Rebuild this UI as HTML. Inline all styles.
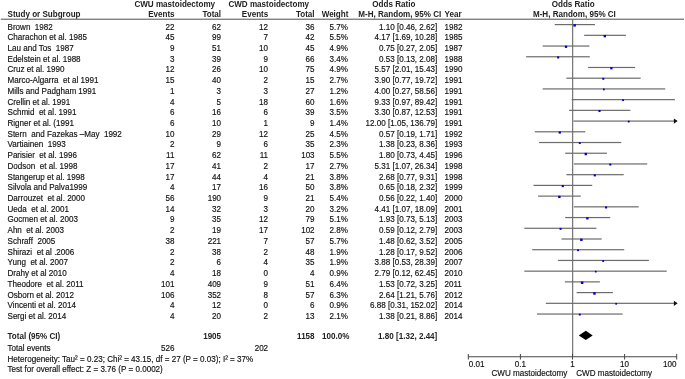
<!DOCTYPE html><html><head><meta charset="utf-8"><style>
html,body{margin:0;padding:0;background:#fff;width:685px;height:379px;overflow:hidden}
svg{display:block;will-change:transform}
#w{width:685px;height:379px}
text{font-family:"Liberation Sans",sans-serif;font-size:8.08px;fill:#111;stroke:#111;stroke-width:0.15px}
.b{font-weight:bold;stroke-width:0px;fill:#222}.e{text-anchor:end}.m{text-anchor:middle}
</style></head><body><div id="w">
<svg width="685" height="379" viewBox="0 0 685 379">
<rect width="685" height="379" fill="#fff"/>
<text class="b" transform="translate(134.40 6.80) scale(1 1.09)">CWU mastoidectomy</text>
<text class="b" transform="translate(228.40 6.80) scale(1 1.09)">CWD mastoidectomy</text>
<text class="b" transform="translate(372.30 6.80) scale(1 1.09)">Odds Ratio</text>
<text class="b m" transform="translate(573.20 6.80) scale(1 1.09)">Odds Ratio</text>
<text class="b" transform="translate(7.50 17.30) scale(1 1.09)">Study or Subgroup</text>
<text class="b e" transform="translate(174.60 17.30) scale(1 1.09)">Events</text>
<text class="b e" transform="translate(221.10 17.30) scale(1 1.09)">Total</text>
<text class="b e" transform="translate(268.30 17.30) scale(1 1.09)">Events</text>
<text class="b e" transform="translate(314.60 17.30) scale(1 1.09)">Total</text>
<text class="b e" transform="translate(348.40 17.30) scale(1 1.09)">Weight</text>
<text class="b e" transform="translate(441.20 17.30) scale(1 1.09)">M-H, Random, 95% CI</text>
<text class="b" transform="translate(444.50 17.30) scale(1 1.09)">Year</text>
<text class="b m" transform="translate(574.40 17.30) scale(1 1.09)">M-H, Random, 95% CI</text>
<rect x="0.8" y="18.6" width="683.2" height="1.3" fill="#777"/>
<rect x="572.0" y="19.5" width="1.25" height="337.0" fill="#7a7a7a"/>
<text transform="translate(7.50 29.50) scale(1 1.09)">Brown&#160;&#160;1982</text>
<text class="e" transform="translate(174.40 29.50) scale(1 1.09)">22</text>
<text class="e" transform="translate(221.10 29.50) scale(1 1.09)">62</text>
<text class="e" transform="translate(268.10 29.50) scale(1 1.09)">12</text>
<text class="e" transform="translate(314.60 29.50) scale(1 1.09)">36</text>
<text class="e" transform="translate(347.90 29.50) scale(1 1.09)">5.7%</text>
<text class="e" transform="translate(437.30 29.50) scale(1 1.09)">1.10 [0.46, 2.62]</text>
<text transform="translate(444.50 29.50) scale(1 1.09)">1982</text>
<rect x="554.73" y="24.00" width="40.26" height="1.2" fill="#6c6c6c"/>
<rect x="573.46" y="24.20" width="2.40" height="2.40" fill="#0000d0"/>
<text transform="translate(7.50 40.22) scale(1 1.09)">Charachon et al. 1985</text>
<text class="e" transform="translate(174.40 40.22) scale(1 1.09)">45</text>
<text class="e" transform="translate(221.10 40.22) scale(1 1.09)">99</text>
<text class="e" transform="translate(268.10 40.22) scale(1 1.09)">7</text>
<text class="e" transform="translate(314.60 40.22) scale(1 1.09)">42</text>
<text class="e" transform="translate(347.90 40.22) scale(1 1.09)">5.5%</text>
<text class="e" transform="translate(437.30 40.22) scale(1 1.09)">4.17 [1.69, 10.28]</text>
<text transform="translate(444.50 40.22) scale(1 1.09)">1985</text>
<rect x="584.17" y="34.72" width="41.75" height="1.2" fill="#6c6c6c"/>
<rect x="603.62" y="34.92" width="2.37" height="2.37" fill="#0000d0"/>
<text transform="translate(7.50 50.94) scale(1 1.09)">Lau and Tos&#160;&#160;1987</text>
<text class="e" transform="translate(174.40 50.94) scale(1 1.09)">9</text>
<text class="e" transform="translate(221.10 50.94) scale(1 1.09)">51</text>
<text class="e" transform="translate(268.10 50.94) scale(1 1.09)">10</text>
<text class="e" transform="translate(314.60 50.94) scale(1 1.09)">45</text>
<text class="e" transform="translate(347.90 50.94) scale(1 1.09)">4.9%</text>
<text class="e" transform="translate(437.30 50.94) scale(1 1.09)">0.75 [0.27, 2.05]</text>
<text transform="translate(444.50 50.94) scale(1 1.09)">1987</text>
<rect x="542.67" y="45.44" width="46.77" height="1.2" fill="#6c6c6c"/>
<rect x="564.85" y="45.64" width="2.29" height="2.29" fill="#0000d0"/>
<text transform="translate(7.50 61.66) scale(1 1.09)">Edelstein et al. 1988</text>
<text class="e" transform="translate(174.40 61.66) scale(1 1.09)">3</text>
<text class="e" transform="translate(221.10 61.66) scale(1 1.09)">39</text>
<text class="e" transform="translate(268.10 61.66) scale(1 1.09)">9</text>
<text class="e" transform="translate(314.60 61.66) scale(1 1.09)">66</text>
<text class="e" transform="translate(347.90 61.66) scale(1 1.09)">3.4%</text>
<text class="e" transform="translate(437.30 61.66) scale(1 1.09)">0.53 [0.13, 2.08]</text>
<text transform="translate(444.50 61.66) scale(1 1.09)">1988</text>
<rect x="526.14" y="56.16" width="63.63" height="1.2" fill="#6c6c6c"/>
<rect x="557.10" y="56.36" width="2.08" height="2.08" fill="#0000d0"/>
<text transform="translate(7.50 72.38) scale(1 1.09)">Cruz et al. 1990</text>
<text class="e" transform="translate(174.40 72.38) scale(1 1.09)">12</text>
<text class="e" transform="translate(221.10 72.38) scale(1 1.09)">26</text>
<text class="e" transform="translate(268.10 72.38) scale(1 1.09)">10</text>
<text class="e" transform="translate(314.60 72.38) scale(1 1.09)">75</text>
<text class="e" transform="translate(347.90 72.38) scale(1 1.09)">4.9%</text>
<text class="e" transform="translate(437.30 72.38) scale(1 1.09)">5.57 [2.01, 15.43]</text>
<text transform="translate(444.50 72.38) scale(1 1.09)">1990</text>
<rect x="588.10" y="66.88" width="47.02" height="1.2" fill="#6c6c6c"/>
<rect x="610.22" y="67.08" width="2.29" height="2.29" fill="#0000d0"/>
<text transform="translate(7.50 83.10) scale(1 1.09)">Marco-Algarra&#160;&#160;et al 1991</text>
<text class="e" transform="translate(174.40 83.10) scale(1 1.09)">15</text>
<text class="e" transform="translate(221.10 83.10) scale(1 1.09)">40</text>
<text class="e" transform="translate(268.10 83.10) scale(1 1.09)">2</text>
<text class="e" transform="translate(314.60 83.10) scale(1 1.09)">15</text>
<text class="e" transform="translate(347.90 83.10) scale(1 1.09)">2.7%</text>
<text class="e" transform="translate(437.30 83.10) scale(1 1.09)">3.90 [0.77, 19.72]</text>
<text transform="translate(444.50 83.10) scale(1 1.09)">1991</text>
<rect x="566.39" y="77.60" width="74.28" height="1.2" fill="#6c6c6c"/>
<rect x="602.31" y="77.80" width="1.98" height="1.98" fill="#0000d0"/>
<text transform="translate(7.50 93.82) scale(1 1.09)">Mills and Padgham 1991</text>
<text class="e" transform="translate(174.40 93.82) scale(1 1.09)">1</text>
<text class="e" transform="translate(221.10 93.82) scale(1 1.09)">3</text>
<text class="e" transform="translate(268.10 93.82) scale(1 1.09)">3</text>
<text class="e" transform="translate(314.60 93.82) scale(1 1.09)">27</text>
<text class="e" transform="translate(347.90 93.82) scale(1 1.09)">1.2%</text>
<text class="e" transform="translate(437.30 93.82) scale(1 1.09)">4.00 [0.27, 58.56]</text>
<text transform="translate(444.50 93.82) scale(1 1.09)">1991</text>
<rect x="542.67" y="88.32" width="122.62" height="1.2" fill="#6c6c6c"/>
<rect x="602.98" y="88.52" width="1.77" height="1.77" fill="#0000d0"/>
<text transform="translate(7.50 104.54) scale(1 1.09)">Crellin et al. 1991</text>
<text class="e" transform="translate(174.40 104.54) scale(1 1.09)">4</text>
<text class="e" transform="translate(221.10 104.54) scale(1 1.09)">5</text>
<text class="e" transform="translate(268.10 104.54) scale(1 1.09)">18</text>
<text class="e" transform="translate(314.60 104.54) scale(1 1.09)">60</text>
<text class="e" transform="translate(347.90 104.54) scale(1 1.09)">1.6%</text>
<text class="e" transform="translate(437.30 104.54) scale(1 1.09)">9.33 [0.97, 89.42]</text>
<text transform="translate(444.50 104.54) scale(1 1.09)">1991</text>
<rect x="571.61" y="99.04" width="103.26" height="1.2" fill="#6c6c6c"/>
<rect x="622.12" y="99.24" width="1.82" height="1.82" fill="#0000d0"/>
<text transform="translate(7.50 115.26) scale(1 1.09)">Schmid&#160;&#160;et al. 1991</text>
<text class="e" transform="translate(174.40 115.26) scale(1 1.09)">6</text>
<text class="e" transform="translate(221.10 115.26) scale(1 1.09)">16</text>
<text class="e" transform="translate(268.10 115.26) scale(1 1.09)">6</text>
<text class="e" transform="translate(314.60 115.26) scale(1 1.09)">39</text>
<text class="e" transform="translate(347.90 115.26) scale(1 1.09)">3.5%</text>
<text class="e" transform="translate(437.30 115.26) scale(1 1.09)">3.30 [0.87, 12.53]</text>
<text transform="translate(444.50 115.26) scale(1 1.09)">1991</text>
<rect x="569.15" y="109.76" width="61.25" height="1.2" fill="#6c6c6c"/>
<rect x="598.47" y="109.96" width="2.09" height="2.09" fill="#0000d0"/>
<text transform="translate(7.50 125.98) scale(1 1.09)">Rigner et al. (1991</text>
<text class="e" transform="translate(174.40 125.98) scale(1 1.09)">6</text>
<text class="e" transform="translate(221.10 125.98) scale(1 1.09)">10</text>
<text class="e" transform="translate(268.10 125.98) scale(1 1.09)">1</text>
<text class="e" transform="translate(314.60 125.98) scale(1 1.09)">9</text>
<text class="e" transform="translate(347.90 125.98) scale(1 1.09)">1.4%</text>
<text class="e" transform="translate(437.30 125.98) scale(1 1.09)">12.00 [1.05, 136.79]</text>
<text transform="translate(444.50 125.98) scale(1 1.09)">1991</text>
<rect x="573.40" y="120.48" width="103.30" height="1.2" fill="#6c6c6c"/>
<path d="M673.90 118.48 L677.60 121.08 L673.90 123.68 Z" fill="#111"/>
<rect x="627.83" y="120.68" width="1.80" height="1.80" fill="#0000d0"/>
<text transform="translate(7.50 136.70) scale(1 1.09)">Stern&#160;&#160;and Fazekas&#160;&#8211;May&#160;&#160;1992</text>
<text class="e" transform="translate(174.40 136.70) scale(1 1.09)">10</text>
<text class="e" transform="translate(221.10 136.70) scale(1 1.09)">29</text>
<text class="e" transform="translate(268.10 136.70) scale(1 1.09)">12</text>
<text class="e" transform="translate(314.60 136.70) scale(1 1.09)">25</text>
<text class="e" transform="translate(347.90 136.70) scale(1 1.09)">4.5%</text>
<text class="e" transform="translate(437.30 136.70) scale(1 1.09)">0.57 [0.19, 1.71]</text>
<text transform="translate(444.50 136.70) scale(1 1.09)">1992</text>
<rect x="534.72" y="131.20" width="50.62" height="1.2" fill="#6c6c6c"/>
<rect x="558.67" y="131.40" width="2.23" height="2.23" fill="#0000d0"/>
<text transform="translate(7.50 147.42) scale(1 1.09)">Vartiainen&#160;&#160;1993</text>
<text class="e" transform="translate(174.40 147.42) scale(1 1.09)">2</text>
<text class="e" transform="translate(221.10 147.42) scale(1 1.09)">9</text>
<text class="e" transform="translate(268.10 147.42) scale(1 1.09)">6</text>
<text class="e" transform="translate(314.60 147.42) scale(1 1.09)">35</text>
<text class="e" transform="translate(347.90 147.42) scale(1 1.09)">2.3%</text>
<text class="e" transform="translate(437.30 147.42) scale(1 1.09)">1.38 [0.23, 8.36]</text>
<text transform="translate(444.50 147.42) scale(1 1.09)">1993</text>
<rect x="539.05" y="141.92" width="82.20" height="1.2" fill="#6c6c6c"/>
<rect x="578.83" y="142.12" width="1.92" height="1.92" fill="#0000d0"/>
<text transform="translate(7.50 158.14) scale(1 1.09)">Parisier&#160;&#160;et al. 1996</text>
<text class="e" transform="translate(174.40 158.14) scale(1 1.09)">11</text>
<text class="e" transform="translate(221.10 158.14) scale(1 1.09)">62</text>
<text class="e" transform="translate(268.10 158.14) scale(1 1.09)">11</text>
<text class="e" transform="translate(314.60 158.14) scale(1 1.09)">103</text>
<text class="e" transform="translate(347.90 158.14) scale(1 1.09)">5.5%</text>
<text class="e" transform="translate(437.30 158.14) scale(1 1.09)">1.80 [0.73, 4.45]</text>
<text transform="translate(444.50 158.14) scale(1 1.09)">1996</text>
<rect x="565.18" y="152.64" width="41.80" height="1.2" fill="#6c6c6c"/>
<rect x="584.61" y="152.84" width="2.37" height="2.37" fill="#0000d0"/>
<text transform="translate(7.50 168.86) scale(1 1.09)">Dodson&#160;&#160;et al. 1998</text>
<text class="e" transform="translate(174.40 168.86) scale(1 1.09)">17</text>
<text class="e" transform="translate(221.10 168.86) scale(1 1.09)">41</text>
<text class="e" transform="translate(268.10 168.86) scale(1 1.09)">2</text>
<text class="e" transform="translate(314.60 168.86) scale(1 1.09)">17</text>
<text class="e" transform="translate(347.90 168.86) scale(1 1.09)">2.7%</text>
<text class="e" transform="translate(437.30 168.86) scale(1 1.09)">5.31 [1.07, 26.34]</text>
<text transform="translate(444.50 168.86) scale(1 1.09)">1998</text>
<rect x="573.83" y="163.36" width="73.38" height="1.2" fill="#6c6c6c"/>
<rect x="609.29" y="163.56" width="1.98" height="1.98" fill="#0000d0"/>
<text transform="translate(7.50 179.58) scale(1 1.09)">Stangerup et al. 1998</text>
<text class="e" transform="translate(174.40 179.58) scale(1 1.09)">17</text>
<text class="e" transform="translate(221.10 179.58) scale(1 1.09)">44</text>
<text class="e" transform="translate(268.10 179.58) scale(1 1.09)">4</text>
<text class="e" transform="translate(314.60 179.58) scale(1 1.09)">21</text>
<text class="e" transform="translate(347.90 179.58) scale(1 1.09)">3.8%</text>
<text class="e" transform="translate(437.30 179.58) scale(1 1.09)">2.68 [0.77, 9.31]</text>
<text transform="translate(444.50 179.58) scale(1 1.09)">1998</text>
<rect x="566.39" y="174.08" width="57.30" height="1.2" fill="#6c6c6c"/>
<rect x="593.74" y="174.28" width="2.13" height="2.13" fill="#0000d0"/>
<text transform="translate(7.50 190.30) scale(1 1.09)">Silvola and Palva1999</text>
<text class="e" transform="translate(174.40 190.30) scale(1 1.09)">4</text>
<text class="e" transform="translate(221.10 190.30) scale(1 1.09)">17</text>
<text class="e" transform="translate(268.10 190.30) scale(1 1.09)">16</text>
<text class="e" transform="translate(314.60 190.30) scale(1 1.09)">50</text>
<text class="e" transform="translate(347.90 190.30) scale(1 1.09)">3.8%</text>
<text class="e" transform="translate(437.30 190.30) scale(1 1.09)">0.65 [0.18, 2.32]</text>
<text transform="translate(444.50 190.30) scale(1 1.09)">1999</text>
<rect x="533.50" y="184.80" width="58.74" height="1.2" fill="#6c6c6c"/>
<rect x="561.69" y="185.00" width="2.13" height="2.13" fill="#0000d0"/>
<text transform="translate(7.50 201.02) scale(1 1.09)">Darrouzet&#160;&#160;et al. 2000</text>
<text class="e" transform="translate(174.40 201.02) scale(1 1.09)">56</text>
<text class="e" transform="translate(221.10 201.02) scale(1 1.09)">190</text>
<text class="e" transform="translate(268.10 201.02) scale(1 1.09)">9</text>
<text class="e" transform="translate(314.60 201.02) scale(1 1.09)">21</text>
<text class="e" transform="translate(347.90 201.02) scale(1 1.09)">5.4%</text>
<text class="e" transform="translate(437.30 201.02) scale(1 1.09)">0.56 [0.22, 1.40]</text>
<text transform="translate(444.50 201.02) scale(1 1.09)">2000</text>
<rect x="538.04" y="195.52" width="42.77" height="1.2" fill="#6c6c6c"/>
<rect x="558.20" y="195.72" width="2.36" height="2.36" fill="#0000d0"/>
<text transform="translate(7.50 211.74) scale(1 1.09)">Ueda&#160;&#160;et al. 2001</text>
<text class="e" transform="translate(174.40 211.74) scale(1 1.09)">14</text>
<text class="e" transform="translate(221.10 211.74) scale(1 1.09)">32</text>
<text class="e" transform="translate(268.10 211.74) scale(1 1.09)">3</text>
<text class="e" transform="translate(314.60 211.74) scale(1 1.09)">20</text>
<text class="e" transform="translate(347.90 211.74) scale(1 1.09)">3.2%</text>
<text class="e" transform="translate(437.30 211.74) scale(1 1.09)">4.41 [1.07, 18.09]</text>
<text transform="translate(444.50 211.74) scale(1 1.09)">2001</text>
<rect x="573.83" y="206.24" width="64.88" height="1.2" fill="#6c6c6c"/>
<rect x="605.05" y="206.44" width="2.05" height="2.05" fill="#0000d0"/>
<text transform="translate(7.50 222.46) scale(1 1.09)">Gocmen et al. 2003</text>
<text class="e" transform="translate(174.40 222.46) scale(1 1.09)">9</text>
<text class="e" transform="translate(221.10 222.46) scale(1 1.09)">35</text>
<text class="e" transform="translate(268.10 222.46) scale(1 1.09)">12</text>
<text class="e" transform="translate(314.60 222.46) scale(1 1.09)">79</text>
<text class="e" transform="translate(347.90 222.46) scale(1 1.09)">5.1%</text>
<text class="e" transform="translate(437.30 222.46) scale(1 1.09)">1.93 [0.73, 5.13]</text>
<text transform="translate(444.50 222.46) scale(1 1.09)">2003</text>
<rect x="565.18" y="216.96" width="45.02" height="1.2" fill="#6c6c6c"/>
<rect x="586.22" y="217.16" width="2.31" height="2.31" fill="#0000d0"/>
<text transform="translate(7.50 233.18) scale(1 1.09)">Ahn&#160;&#160;et al. 2003</text>
<text class="e" transform="translate(174.40 233.18) scale(1 1.09)">2</text>
<text class="e" transform="translate(221.10 233.18) scale(1 1.09)">19</text>
<text class="e" transform="translate(268.10 233.18) scale(1 1.09)">17</text>
<text class="e" transform="translate(314.60 233.18) scale(1 1.09)">102</text>
<text class="e" transform="translate(347.90 233.18) scale(1 1.09)">2.8%</text>
<text class="e" transform="translate(437.30 233.18) scale(1 1.09)">0.59 [0.12, 2.79]</text>
<text transform="translate(444.50 233.18) scale(1 1.09)">2003</text>
<rect x="524.33" y="227.68" width="72.09" height="1.2" fill="#6c6c6c"/>
<rect x="559.57" y="227.88" width="1.99" height="1.99" fill="#0000d0"/>
<text transform="translate(7.50 243.90) scale(1 1.09)">Schraff&#160;&#160;2005</text>
<text class="e" transform="translate(174.40 243.90) scale(1 1.09)">38</text>
<text class="e" transform="translate(221.10 243.90) scale(1 1.09)">221</text>
<text class="e" transform="translate(268.10 243.90) scale(1 1.09)">7</text>
<text class="e" transform="translate(314.60 243.90) scale(1 1.09)">57</text>
<text class="e" transform="translate(347.90 243.90) scale(1 1.09)">5.7%</text>
<text class="e" transform="translate(437.30 243.90) scale(1 1.09)">1.48 [0.62, 3.52]</text>
<text transform="translate(444.50 243.90) scale(1 1.09)">2005</text>
<rect x="561.48" y="238.40" width="40.19" height="1.2" fill="#6c6c6c"/>
<rect x="580.17" y="238.60" width="2.40" height="2.40" fill="#0000d0"/>
<text transform="translate(7.50 254.62) scale(1 1.09)">Shirazi&#160;&#160;et al .2006</text>
<text class="e" transform="translate(174.40 254.62) scale(1 1.09)">2</text>
<text class="e" transform="translate(221.10 254.62) scale(1 1.09)">38</text>
<text class="e" transform="translate(268.10 254.62) scale(1 1.09)">2</text>
<text class="e" transform="translate(314.60 254.62) scale(1 1.09)">48</text>
<text class="e" transform="translate(347.90 254.62) scale(1 1.09)">1.9%</text>
<text class="e" transform="translate(437.30 254.62) scale(1 1.09)">1.28 [0.17, 9.52]</text>
<text transform="translate(444.50 254.62) scale(1 1.09)">2006</text>
<rect x="532.21" y="249.12" width="91.98" height="1.2" fill="#6c6c6c"/>
<rect x="577.15" y="249.32" width="1.87" height="1.87" fill="#0000d0"/>
<text transform="translate(7.50 265.34) scale(1 1.09)">Yung&#160;&#160;et al. 2007</text>
<text class="e" transform="translate(174.40 265.34) scale(1 1.09)">2</text>
<text class="e" transform="translate(221.10 265.34) scale(1 1.09)">6</text>
<text class="e" transform="translate(268.10 265.34) scale(1 1.09)">4</text>
<text class="e" transform="translate(314.60 265.34) scale(1 1.09)">35</text>
<text class="e" transform="translate(347.90 265.34) scale(1 1.09)">1.9%</text>
<text class="e" transform="translate(437.30 265.34) scale(1 1.09)">3.88 [0.53, 28.39]</text>
<text transform="translate(444.50 265.34) scale(1 1.09)">2007</text>
<rect x="557.93" y="259.84" width="90.98" height="1.2" fill="#6c6c6c"/>
<rect x="602.25" y="260.04" width="1.87" height="1.87" fill="#0000d0"/>
<text transform="translate(7.50 276.06) scale(1 1.09)">Drahy et al 2010</text>
<text class="e" transform="translate(174.40 276.06) scale(1 1.09)">4</text>
<text class="e" transform="translate(221.10 276.06) scale(1 1.09)">18</text>
<text class="e" transform="translate(268.10 276.06) scale(1 1.09)">0</text>
<text class="e" transform="translate(314.60 276.06) scale(1 1.09)">4</text>
<text class="e" transform="translate(347.90 276.06) scale(1 1.09)">0.9%</text>
<text class="e" transform="translate(437.30 276.06) scale(1 1.09)">2.79 [0.12, 62.45]</text>
<text transform="translate(444.50 276.06) scale(1 1.09)">2010</text>
<rect x="524.33" y="270.56" width="142.42" height="1.2" fill="#6c6c6c"/>
<rect x="594.85" y="270.76" width="1.73" height="1.73" fill="#0000d0"/>
<text transform="translate(7.50 286.78) scale(1 1.09)">Theodore&#160;&#160;et al. 2011</text>
<text class="e" transform="translate(174.40 286.78) scale(1 1.09)">101</text>
<text class="e" transform="translate(221.10 286.78) scale(1 1.09)">409</text>
<text class="e" transform="translate(268.10 286.78) scale(1 1.09)">9</text>
<text class="e" transform="translate(314.60 286.78) scale(1 1.09)">51</text>
<text class="e" transform="translate(347.90 286.78) scale(1 1.09)">6.4%</text>
<text class="e" transform="translate(437.30 286.78) scale(1 1.09)">1.53 [0.72, 3.25]</text>
<text transform="translate(444.50 286.78) scale(1 1.09)">2011</text>
<rect x="564.87" y="281.28" width="35.00" height="1.2" fill="#6c6c6c"/>
<rect x="580.87" y="281.48" width="2.50" height="2.50" fill="#0000d0"/>
<text transform="translate(7.50 297.50) scale(1 1.09)">Osborn et al. 2012</text>
<text class="e" transform="translate(174.40 297.50) scale(1 1.09)">106</text>
<text class="e" transform="translate(221.10 297.50) scale(1 1.09)">352</text>
<text class="e" transform="translate(268.10 297.50) scale(1 1.09)">8</text>
<text class="e" transform="translate(314.60 297.50) scale(1 1.09)">57</text>
<text class="e" transform="translate(347.90 297.50) scale(1 1.09)">6.3%</text>
<text class="e" transform="translate(437.30 297.50) scale(1 1.09)">2.64 [1.21, 5.76]</text>
<text transform="translate(444.50 297.50) scale(1 1.09)">2012</text>
<rect x="576.61" y="292.00" width="36.20" height="1.2" fill="#6c6c6c"/>
<rect x="593.22" y="292.20" width="2.48" height="2.48" fill="#0000d0"/>
<text transform="translate(7.50 308.22) scale(1 1.09)">Vincenti et al. 2014</text>
<text class="e" transform="translate(174.40 308.22) scale(1 1.09)">4</text>
<text class="e" transform="translate(221.10 308.22) scale(1 1.09)">12</text>
<text class="e" transform="translate(268.10 308.22) scale(1 1.09)">0</text>
<text class="e" transform="translate(314.60 308.22) scale(1 1.09)">6</text>
<text class="e" transform="translate(347.90 308.22) scale(1 1.09)">0.9%</text>
<text class="e" transform="translate(437.30 308.22) scale(1 1.09)">6.88 [0.31, 152.02]</text>
<text transform="translate(444.50 308.22) scale(1 1.09)">2014</text>
<rect x="545.80" y="302.72" width="130.90" height="1.2" fill="#6c6c6c"/>
<path d="M673.90 300.72 L677.60 303.32 L673.90 305.92 Z" fill="#111"/>
<rect x="615.28" y="302.92" width="1.73" height="1.73" fill="#0000d0"/>
<text transform="translate(7.50 318.94) scale(1 1.09)">Sergi et al. 2014</text>
<text class="e" transform="translate(174.40 318.94) scale(1 1.09)">4</text>
<text class="e" transform="translate(221.10 318.94) scale(1 1.09)">20</text>
<text class="e" transform="translate(268.10 318.94) scale(1 1.09)">2</text>
<text class="e" transform="translate(314.60 318.94) scale(1 1.09)">13</text>
<text class="e" transform="translate(347.90 318.94) scale(1 1.09)">2.1%</text>
<text class="e" transform="translate(437.30 318.94) scale(1 1.09)">1.38 [0.21, 8.86]</text>
<text transform="translate(444.50 318.94) scale(1 1.09)">2014</text>
<rect x="536.99" y="313.44" width="85.57" height="1.2" fill="#6c6c6c"/>
<rect x="578.84" y="313.64" width="1.89" height="1.89" fill="#0000d0"/>
<text class="b" transform="translate(7.50 339.00) scale(1 1.09)">Total (95% CI)</text>
<text class="b e" transform="translate(221.10 339.00) scale(1 1.09)">1905</text>
<text class="b e" transform="translate(314.60 339.00) scale(1 1.09)">1158</text>
<text class="b e" transform="translate(349.40 339.00) scale(1 1.09)">100.0%</text>
<text class="b e" transform="translate(437.30 339.00) scale(1 1.09)">1.80 [1.32, 2.44]</text>
<path d="M578.78 335.4 L585.80 330.8 L592.68 335.4 L585.80 339.9 Z" fill="#000"/>
<text transform="translate(7.50 351.00) scale(1 1.09)">Total events</text>
<text class="e" transform="translate(174.40 351.00) scale(1 1.09)">526</text>
<text class="e" transform="translate(268.10 351.00) scale(1 1.09)">202</text>
<text transform="translate(7.50 361.80) scale(1 1.09)">Heterogeneity: Tau&#178; = 0.23; Chi&#178; = 43.15, df = 27 (P = 0.03); I&#178; = 37%</text>
<text transform="translate(7.50 372.30) scale(1 1.09)">Test for overall effect: Z = 3.76 (P = 0.0002)</text>
<rect x="468.30" y="356.1" width="208.40" height="1.2" fill="#666"/>
<rect x="467.80" y="354" width="1" height="5.5" fill="#444"/>
<rect x="519.90" y="354" width="1" height="5.5" fill="#444"/>
<rect x="572.00" y="354" width="1" height="5.5" fill="#444"/>
<rect x="624.10" y="354" width="1" height="5.5" fill="#444"/>
<rect x="676.20" y="354" width="1" height="5.5" fill="#444"/>
<text transform="translate(468.70 367.00) scale(1 1.09)">0.01</text>
<text class="m" transform="translate(520.40 367.00) scale(1 1.09)">0.1</text>
<text class="m" transform="translate(572.50 367.00) scale(1 1.09)">1</text>
<text class="m" transform="translate(624.60 367.00) scale(1 1.09)">10</text>
<text class="e" transform="translate(676.40 367.00) scale(1 1.09)">100</text>
<text class="e" transform="translate(567.30 376.30) scale(1 1.09)">CWU mastoidectomy</text>
<text transform="translate(576.20 376.30) scale(1 1.09)">CWD mastoidectomy</text>
</svg></div></body></html>
